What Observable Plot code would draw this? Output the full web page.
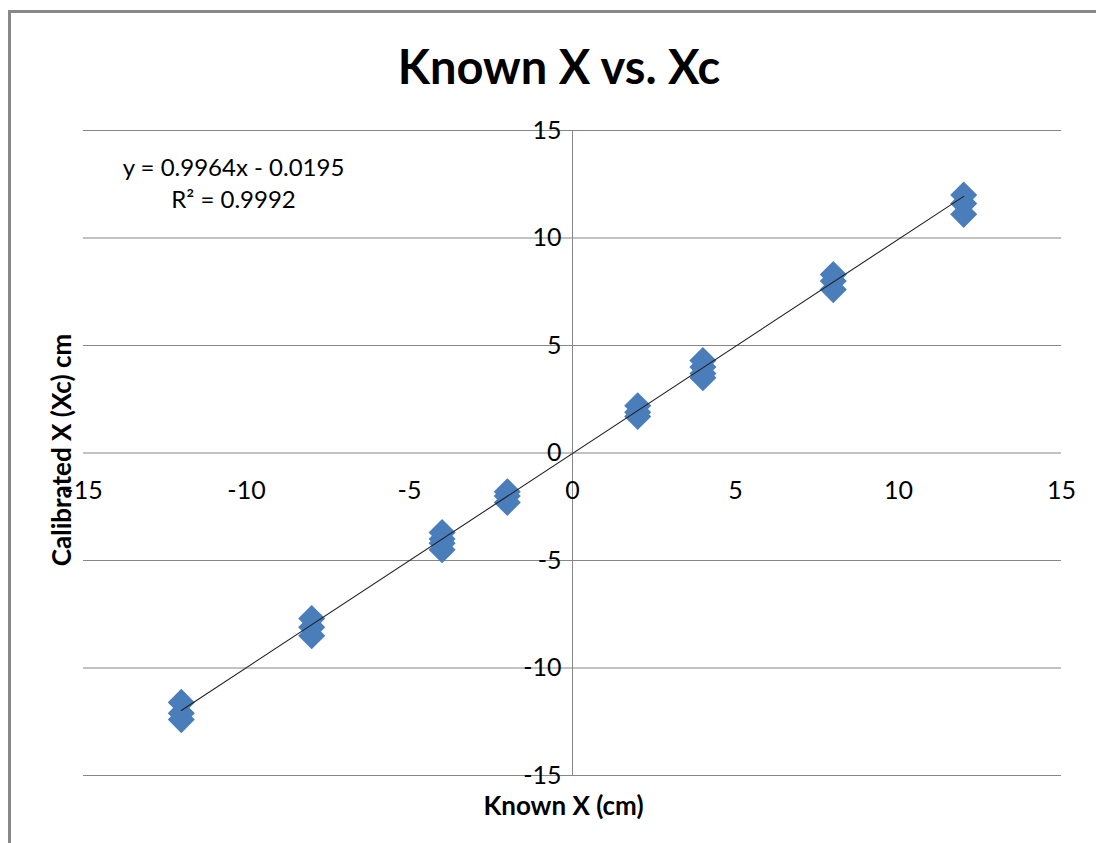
<!DOCTYPE html>
<html>
<head>
<meta charset="utf-8">
<script src="https://cdn.jsdelivr.net/npm/d3@7"></script>
<script src="https://cdn.jsdelivr.net/npm/@observablehq/plot@0.6"></script>
<style>
  html, body { margin: 0; padding: 0; background: #fff; }
  #wrap { position: relative; width: 1096px; height: 843px; overflow: hidden; background: #fff; font-family: Lato, "Open Sans", sans-serif; }
  #frame { position: absolute; left: 8px; top: 10px; width: 1200px; height: 1000px; border-left: 3px solid #888; border-top: 3px solid #888; box-sizing: border-box; pointer-events: none; }
  #title { position: absolute; left: 0; top: 38px; width: 1096px; padding-left: 22px; box-sizing: border-box; text-align: center; font-weight: bold; font-size: 47px; line-height: 56px; color: #000; }
  #chart { position: absolute; left: 0; top: 110px; }
</style>
</head>
<body>
<div id="wrap">
  <div id="frame"></div>
  <div id="title">Known X vs. Xc</div>
  <div id="chart"></div>
</div>
<script>
// Known X (cm) for each measurement
const knownX = [-12, -12, -12, -8, -8, -8, -4, -4, -4, -4, -2, -2, -2, 2, 2, 2, 4, 4, 4, 4, 8, 8, 8, 12, 12, 12];
// Calibrated X (Xc) cm for each measurement
const calibratedX = [-11.6, -12.1, -12.4, -7.7, -8.1, -8.5, -3.7, -4.0, -4.2, -4.5, -1.8, -2.0, -2.3, 2.2, 1.9, 1.7, 4.3, 4.0, 3.7, 3.5, 8.3, 8.0, 7.6, 12.0, 11.6, 11.1];
// Linear trendline reported on the chart
const slope = 0.9964;
const intercept = -0.0195;
const rSquared = 0.9992;
const trendRange = [-12, 12];
// Axis ticks
const xTicks = [-15, -10, -5, 0, 5, 10, 15];
const yTicks = [-15, -10, -5, 0, 5, 10, 15];
const xTitle = "Known X (cm)";
const yTitle = "Calibrated X (Xc) cm";

const points = knownX.map((x, i) => ({x, y: calibratedX[i]}));
const trend = trendRange.map(x => ({x, y: slope * x + intercept}));
const eqText = `y = ${slope}x - ${Math.abs(intercept)}\nR² = ${rSquared}`;

const font = "Lato, 'Open Sans', sans-serif";

const chart = Plot.plot({
  width: 1096,
  height: 733,
  marginLeft: 83,
  marginRight: 35,
  marginTop: 20,
  marginBottom: 68,
  style: {fontFamily: font, background: "transparent", overflow: "visible"},
  x: {domain: [-15, 15], axis: null},
  y: {domain: [-15, 15], axis: null},
  marks: [
    Plot.ruleY(yTicks, {stroke: "#868686", strokeWidth: 1}),
    Plot.ruleX([0], {stroke: "#868686", strokeWidth: 1}),
    Plot.text(yTicks, {x: 0, y: d => d, text: d => String(d), textAnchor: "end", dx: -11, fontSize: 25, fill: "#000"}),
    Plot.text(xTicks, {x: d => d, y: 0, text: d => String(d), dy: 38, fontSize: 25, fill: "#000"}),
    Plot.text([yTitle], {x: -15, y: 0, text: d => d, rotate: -90, dx: -21, dy: -3, fontSize: 26, fontWeight: "bold", fill: "#000"}),
    Plot.text([xTitle], {x: 0, y: -15, text: d => d, dy: 31, dx: -9, fontSize: 26, fontWeight: "bold", fill: "#000"}),
    Plot.dot(points, {x: "x", y: "y", symbol: "diamond2", r: 12.2, fill: "#4A7EBB", stroke: "none"}),
    Plot.line(trend, {x: "x", y: "y", stroke: "#222", strokeWidth: 1.1}),
    Plot.text([eqText], {frameAnchor: "top-left", dx: 150, dy: 51, text: d => d, textAnchor: "middle", lineAnchor: "middle", lineHeight: 1.35, fontSize: 24, fill: "#000"})
  ]
});
document.getElementById("chart").appendChild(chart);
</script>
</body>
</html>
